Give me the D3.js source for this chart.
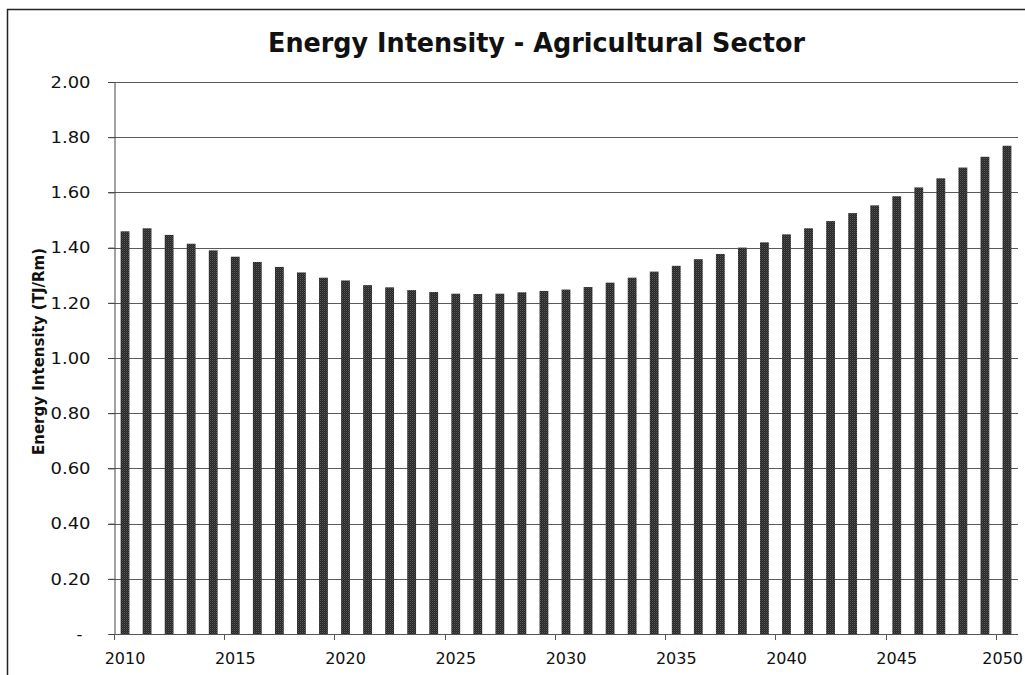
<!DOCTYPE html>
<html>
<head>
<meta charset="utf-8">
<script src="https://cdn.jsdelivr.net/npm/d3@7"></script>
<style>
  html, body { margin: 0; padding: 0; background: #fff; }
  svg { display: block; }
</style>
</head>
<body>
<svg id="chart" width="1025" height="675"></svg>
<script>
// ---- data ----
const years = d3.range(2010, 2051);
const intensity = [
  1.459, 1.470, 1.446, 1.414, 1.390, 1.367, 1.348, 1.330, 1.310, 1.291,
  1.281, 1.264, 1.256, 1.246, 1.239, 1.233, 1.232, 1.233, 1.238, 1.243,
  1.248, 1.257, 1.273, 1.291, 1.313, 1.334, 1.358, 1.377, 1.400, 1.419,
  1.448, 1.470, 1.496, 1.525, 1.553, 1.586, 1.618, 1.651, 1.690, 1.729,
  1.769
];
const yTicks = [0, 0.2, 0.4, 0.6, 0.8, 1.0, 1.2, 1.4, 1.6, 1.8, 2.0];
const yTickLabels = ["-", "0.20", "0.40", "0.60", "0.80", "1.00", "1.20", "1.40", "1.60", "1.80", "2.00"];
const xLabelYears = [2010, 2015, 2020, 2025, 2030, 2035, 2040, 2045, 2050];
const titleText = "Energy Intensity - Agricultural Sector";
const yTitleText = "Energy Intensity (TJ/Rm)";

const data = years.map((y, i) => ({ year: y, value: intensity[i] }));

// ---- layout ----
const plot = { left: 114, right: 1018, top: 82, bottom: 634 };
const svg = d3.select("#chart");

svg.append("rect").attr("width", 1025).attr("height", 675).attr("fill", "#fff");

// bar texture (halftone look)
const defs = svg.append("defs");
const pat = defs.append("pattern").attr("id", "tex")
  .attr("width", 2).attr("height", 2).attr("patternUnits", "userSpaceOnUse");
pat.append("rect").attr("width", 2).attr("height", 2).attr("fill", "#262626");
pat.append("rect").attr("width", 1).attr("height", 1).attr("fill", "#585858");
pat.append("rect").attr("x", 1).attr("y", 1).attr("width", 1).attr("height", 1).attr("fill", "#3c3c3c");

// outer chart border (top & left visible)
svg.append("rect")
  .attr("x", 7.5).attr("y", 9.5).attr("width", 1040).attr("height", 700)
  .attr("fill", "none").attr("stroke", "#222").attr("stroke-width", 1.5);

const x = d3.scaleBand().domain(years).range([plot.left, plot.right])
  .paddingInner(0.6).paddingOuter(0.3);
const y = d3.scaleLinear().domain([0, 2]).range([plot.bottom, plot.top]);

// gridlines
svg.append("g").selectAll("line").data(yTicks.filter(d => d > 0)).join("line")
  .attr("x1", plot.left - 6).attr("x2", plot.right)
  .attr("y1", d => Math.round(y(d)) + 0.5).attr("y2", d => Math.round(y(d)) + 0.5)
  .attr("stroke", "#5a5a5a").attr("stroke-width", 1);

// bars
svg.append("g").selectAll("rect").data(data).join("rect")
  .attr("x", d => x(d.year))
  .attr("width", x.bandwidth())
  .attr("y", d => y(d.value))
  .attr("height", d => y(0) - y(d.value))
  .attr("fill", "url(#tex)");

// y axis
const yAxis = d3.axisLeft(y).tickValues(yTicks)
  .tickFormat((d, i) => yTickLabels[i]).tickSize(6).tickPadding(18);
const gy = svg.append("g").attr("transform", `translate(${plot.left + 0.5},0)`).call(yAxis);
gy.select(".domain").attr("stroke", "#444");
gy.selectAll(".tick line").attr("stroke", "#444");
gy.selectAll(".tick text")
  .attr("font-family", "'DejaVu Sans', sans-serif").attr("font-size", 16.5).attr("fill", "#111")
  .attr("dx", (d, i) => i === 0 ? -8 : 0)
  .each(function(d, i) {
    if (i > 0) d3.select(this).attr("textLength", 40).attr("lengthAdjust", "spacingAndGlyphs");
  });

// x axis
const xAxis = d3.axisBottom(x).tickValues(xLabelYears).tickSize(0).tickPadding(18);
const gx = svg.append("g").attr("transform", `translate(0,${plot.bottom + 0.5})`).call(xAxis);
gx.select(".domain").attr("stroke", "#555").attr("d", `M${plot.left},0H${plot.right}`);
gx.selectAll(".tick text")
  .attr("font-family", "'DejaVu Sans', sans-serif").attr("font-size", 16).attr("fill", "#111");
// keep the last label inside the chart area
gx.selectAll(".tick text").filter(d => d === xLabelYears[xLabelYears.length - 1])
  .attr("text-anchor", "end").attr("x", 1023 - (x(2050) + x.bandwidth() / 2));

// x boundary tick marks every 5 categories
const step = x.step();
const boundaryIdx = d3.range(0, years.length, 5);
svg.append("g").selectAll("line").data(boundaryIdx).join("line")
  .attr("x1", i => Math.round(x(years[i]) - step * x.paddingOuter()) + 0.5)
  .attr("x2", i => Math.round(x(years[i]) - step * x.paddingOuter()) + 0.5)
  .attr("y1", plot.bottom).attr("y2", plot.bottom + 6)
  .attr("stroke", "#555");

// title
svg.append("text")
  .attr("x", 268).attr("y", 52)
  .attr("font-family", "'DejaVu Sans', sans-serif").attr("font-weight", "bold")
  .attr("font-size", 27).attr("fill", "#111")
  .attr("textLength", 537).attr("lengthAdjust", "spacingAndGlyphs")
  .text(titleText);

// y-axis title
svg.append("text")
  .attr("transform", "translate(44,455) rotate(-90)")
  .attr("font-family", "'DejaVu Sans', sans-serif").attr("font-weight", "bold")
  .attr("font-size", 15).attr("fill", "#111")
  .attr("textLength", 207).attr("lengthAdjust", "spacingAndGlyphs")
  .text(yTitleText);
</script>
</body>
</html>
